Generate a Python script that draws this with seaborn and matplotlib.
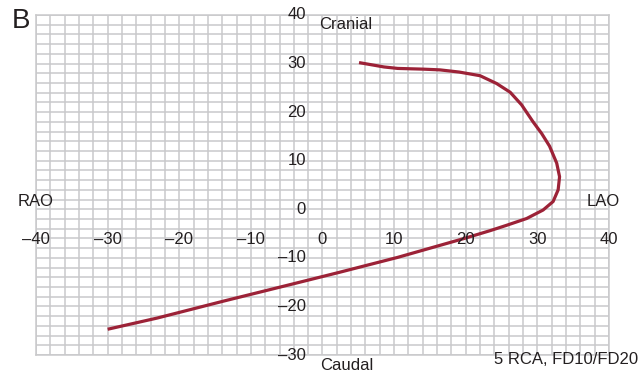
import numpy as np
import pandas as pd
import matplotlib
matplotlib.use("Agg")
import matplotlib.pyplot as plt
import seaborn as sns

# Projection angle curve (LAO/RAO on x, cranial/caudal on y)
angle_lao_rao = [5.1, 8.6, 10.5, 14.1, 16.4, 19.1, 22.0, 24.3, 26.2, 27.8,
                 29.4, 30.6, 31.7, 32.7, 33.1, 32.9, 32.2, 30.8, 28.5, 25.7,
                 23.4, 19.8, 10.5, 2.3, -4.5, -13.8, -23.1, -30.0]
angle_cran_caud = [30.2, 29.3, 29.0, 28.85, 28.7, 28.25, 27.5, 25.9, 24.1, 21.5,
                   18.0, 15.6, 13.0, 9.5, 6.7, 4.0, 1.6, -0.15, -1.9, -3.3,
                   -4.4, -6.0, -9.9, -13.0, -15.5, -18.9, -22.4, -24.7]

x_tick_values = [-40, -30, -20, -10, 0, 10, 20, 30, 40]
y_tick_values = [40, 30, 20, 10, 0, -10, -20, -30]

sns.set_style("white")
plt.rcParams["font.family"] = ["Liberation Sans", "DejaVu Sans"]

text_color = "#231f20"
grid_color = "#c9c9cb"
curve_color = "#9c2237"
fs = 12

fig = plt.figure(figsize=(6.4, 3.74), dpi=100)
ax = fig.add_axes([0.05625, 0.0508, 0.8953, 0.9091])

df = pd.DataFrame({"lao": angle_lao_rao, "cran": angle_cran_caud})
sns.lineplot(data=df, x="lao", y="cran", sort=False, estimator=None,
             color=curve_color, linewidth=2.3, ax=ax,
             solid_capstyle="butt", solid_joinstyle="round")

ax.set_xlim(-40, 40)
ax.set_ylim(-30, 40)
ax.set_xticks(np.arange(-40, 41, 2))
ax.set_yticks(np.arange(-30, 41, 2))
ax.grid(True, color=grid_color, linewidth=1.1)
ax.set_axisbelow(True)
ax.tick_params(length=0, labelbottom=False, labelleft=False)
ax.set_xlabel("")
ax.set_ylabel("")
for sp in ax.spines.values():
    sp.set_color(grid_color)
    sp.set_linewidth(1.1)


def fmt(v):
    return ("\u2013" + str(abs(v))) if v < 0 else str(v)


for v in x_tick_values:
    ax.text(v, -6.3, fmt(v), ha="center", va="center", fontsize=fs,
            color=text_color, clip_on=False)
for v in y_tick_values:
    ax.text(-2.3, v, fmt(v), ha="right", va="center", fontsize=fs,
            color=text_color, clip_on=False)

ax.text(-0.5, 38.1, "Cranial", ha="left", va="center", fontsize=fs, color=text_color)
ax.text(-0.3, -32.1, "Caudal", ha="left", va="center", fontsize=fs,
        color=text_color, clip_on=False)
ax.text(-42.5, 1.6, "RAO", ha="left", va="center", fontsize=fs,
        color=text_color, clip_on=False)
ax.text(36.9, 1.7, "LAO", ha="left", va="center", fontsize=fs,
        color=text_color, clip_on=False)
ax.text(44.0, -31.0, "5 RCA, FD10/FD20", ha="right", va="center", fontsize=fs,
        color=text_color, clip_on=False)

fig.text(21 / 640, 1 - 21 / 374, "B", ha="center", va="center", fontsize=20,
         color=text_color)

fig.savefig("out.png", dpi=100)
